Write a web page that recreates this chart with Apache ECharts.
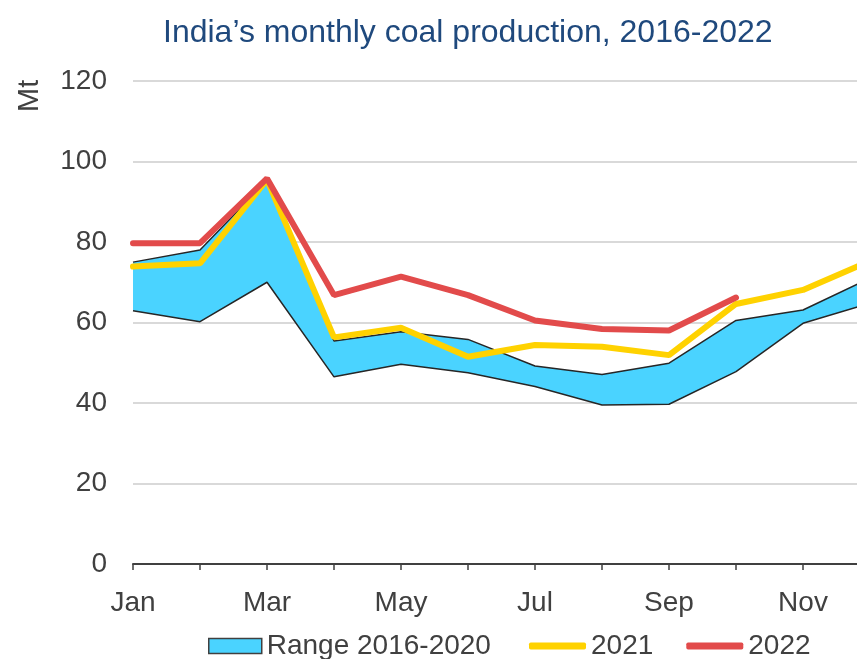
<!DOCTYPE html>
<html>
<head>
<meta charset="utf-8">
<script src="https://cdn.jsdelivr.net/npm/echarts@6/dist/echarts.min.js"></script>
<style>
html,body{margin:0;padding:0;background:#fff;overflow:hidden;width:857px;height:659px;}
#chart{width:870px;height:659px;}
</style>
</head>
<body>
<div id="chart"></div>
<script>
var months = ['Jan','Feb','Mar','Apr','May','Jun','Jul','Aug','Sep','Oct','Nov','Dec'];
var rangeLow  = [62.9, 60.2, 70.0, 46.5, 49.6, 47.5, 44.1, 39.5, 39.7, 47.8, 59.8, 64.8];
var rangeHigh = [75.0, 78.0, 95.3, 55.4, 57.7, 55.8, 49.2, 47.1, 49.9, 60.5, 63.1, 71.0];
var prod2021  = [73.9, 74.7, 95.5, 56.3, 58.7, 51.5, 54.4, 54.0, 51.9, 64.6, 68.1, 75.3];
var prod2022  = [79.7, 79.7, 95.8, 66.8, 71.4, 66.8, 60.5, 58.4, 58.0, 66.2, null, null];
var yTicks = {min: 0, max: 120, interval: 20};

var rangeSpan = rangeHigh.map(function(v, i){ return +(v - rangeLow[i]).toFixed(2); });

var FONT = 'Liberation Sans, Arial, sans-serif';
var TXT = '#404040';

var chart = echarts.init(document.getElementById('chart'), null, {renderer: 'canvas'});
chart.setOption({
  animation: false,
  backgroundColor: '#ffffff',
  title: {
    text: 'India\u2019s monthly coal production, 2016-2022',
    left: 158, top: 12,
    textStyle: {fontFamily: FONT, fontSize: 32, fontWeight: 'normal', color: '#1F497D'}
  },
  graphic: [{
    type: 'text', x: 15, y: 112, rotation: Math.PI / 2,
    style: {text: 'Mt', font: '29px ' + FONT, fill: TXT}
  }],
  legend: [{
    left: 203, top: 627,
    itemWidth: 53, itemHeight: 15, itemGap: 33,
    textStyle: {fontFamily: FONT, fontSize: 28, color: TXT},
    data: [{name: 'Range 2016-2020', icon: 'rect',
            itemStyle: {color: '#4AD3FF', borderColor: '#404040', borderWidth: 1.5}}]
  }, {
    left: 524, top: 627,
    itemWidth: 57, itemHeight: 7, itemGap: 33,
    textStyle: {fontFamily: FONT, fontSize: 28, color: TXT},
    data: [{name: '2021', icon: 'roundRect', itemStyle: {color: '#FFD200'}},
           {name: '2022', icon: 'roundRect', itemStyle: {color: '#E24B4B'}}]
  }],
  grid: {left: 133, right: 0, top: 81, bottom: 95, containLabel: false},
  xAxis: {
    type: 'category', data: months, boundaryGap: false,
    axisLine: {lineStyle: {color: '#404040', width: 2}},
    axisTick: {show: true, interval: 0, length: 6, lineStyle: {color: '#404040', width: 1.5}},
    axisLabel: {interval: 1, margin: 25, fontFamily: FONT, fontSize: 28, color: TXT},
    splitLine: {show: false}
  },
  yAxis: {
    type: 'value', min: yTicks.min, max: yTicks.max, interval: yTicks.interval,
    axisLine: {show: false}, axisTick: {show: false},
    axisLabel: {margin: 26, fontFamily: FONT, fontSize: 28, color: TXT},
    splitLine: {lineStyle: {color: '#D9D9D9', width: 2}}
  },
  series: [{
    name: 'Range low', type: 'line', stack: 'range', data: rangeLow,
    showSymbol: false, symbol: 'none',
    lineStyle: {color: '#262626', width: 1.5},
    itemStyle: {color: '#262626'}, z: 2
  }, {
    name: 'Range 2016-2020', type: 'line', stack: 'range', data: rangeSpan,
    showSymbol: false, symbol: 'none',
    lineStyle: {color: '#262626', width: 1.5},
    areaStyle: {color: '#4AD3FF', opacity: 1},
    itemStyle: {color: '#4AD3FF'}, z: 2
  }, {
    name: '2021', type: 'line', data: prod2021,
    showSymbol: false, symbol: 'none',
    lineStyle: {color: '#FFD200', width: 6, cap: 'round'},
    itemStyle: {color: '#FFD200'}, z: 3
  }, {
    name: '2022', type: 'line', data: prod2022,
    showSymbol: false, symbol: 'none',
    lineStyle: {color: '#E24B4B', width: 6, cap: 'round'},
    itemStyle: {color: '#E24B4B'}, z: 4
  }]
});
</script>
</body>
</html>
